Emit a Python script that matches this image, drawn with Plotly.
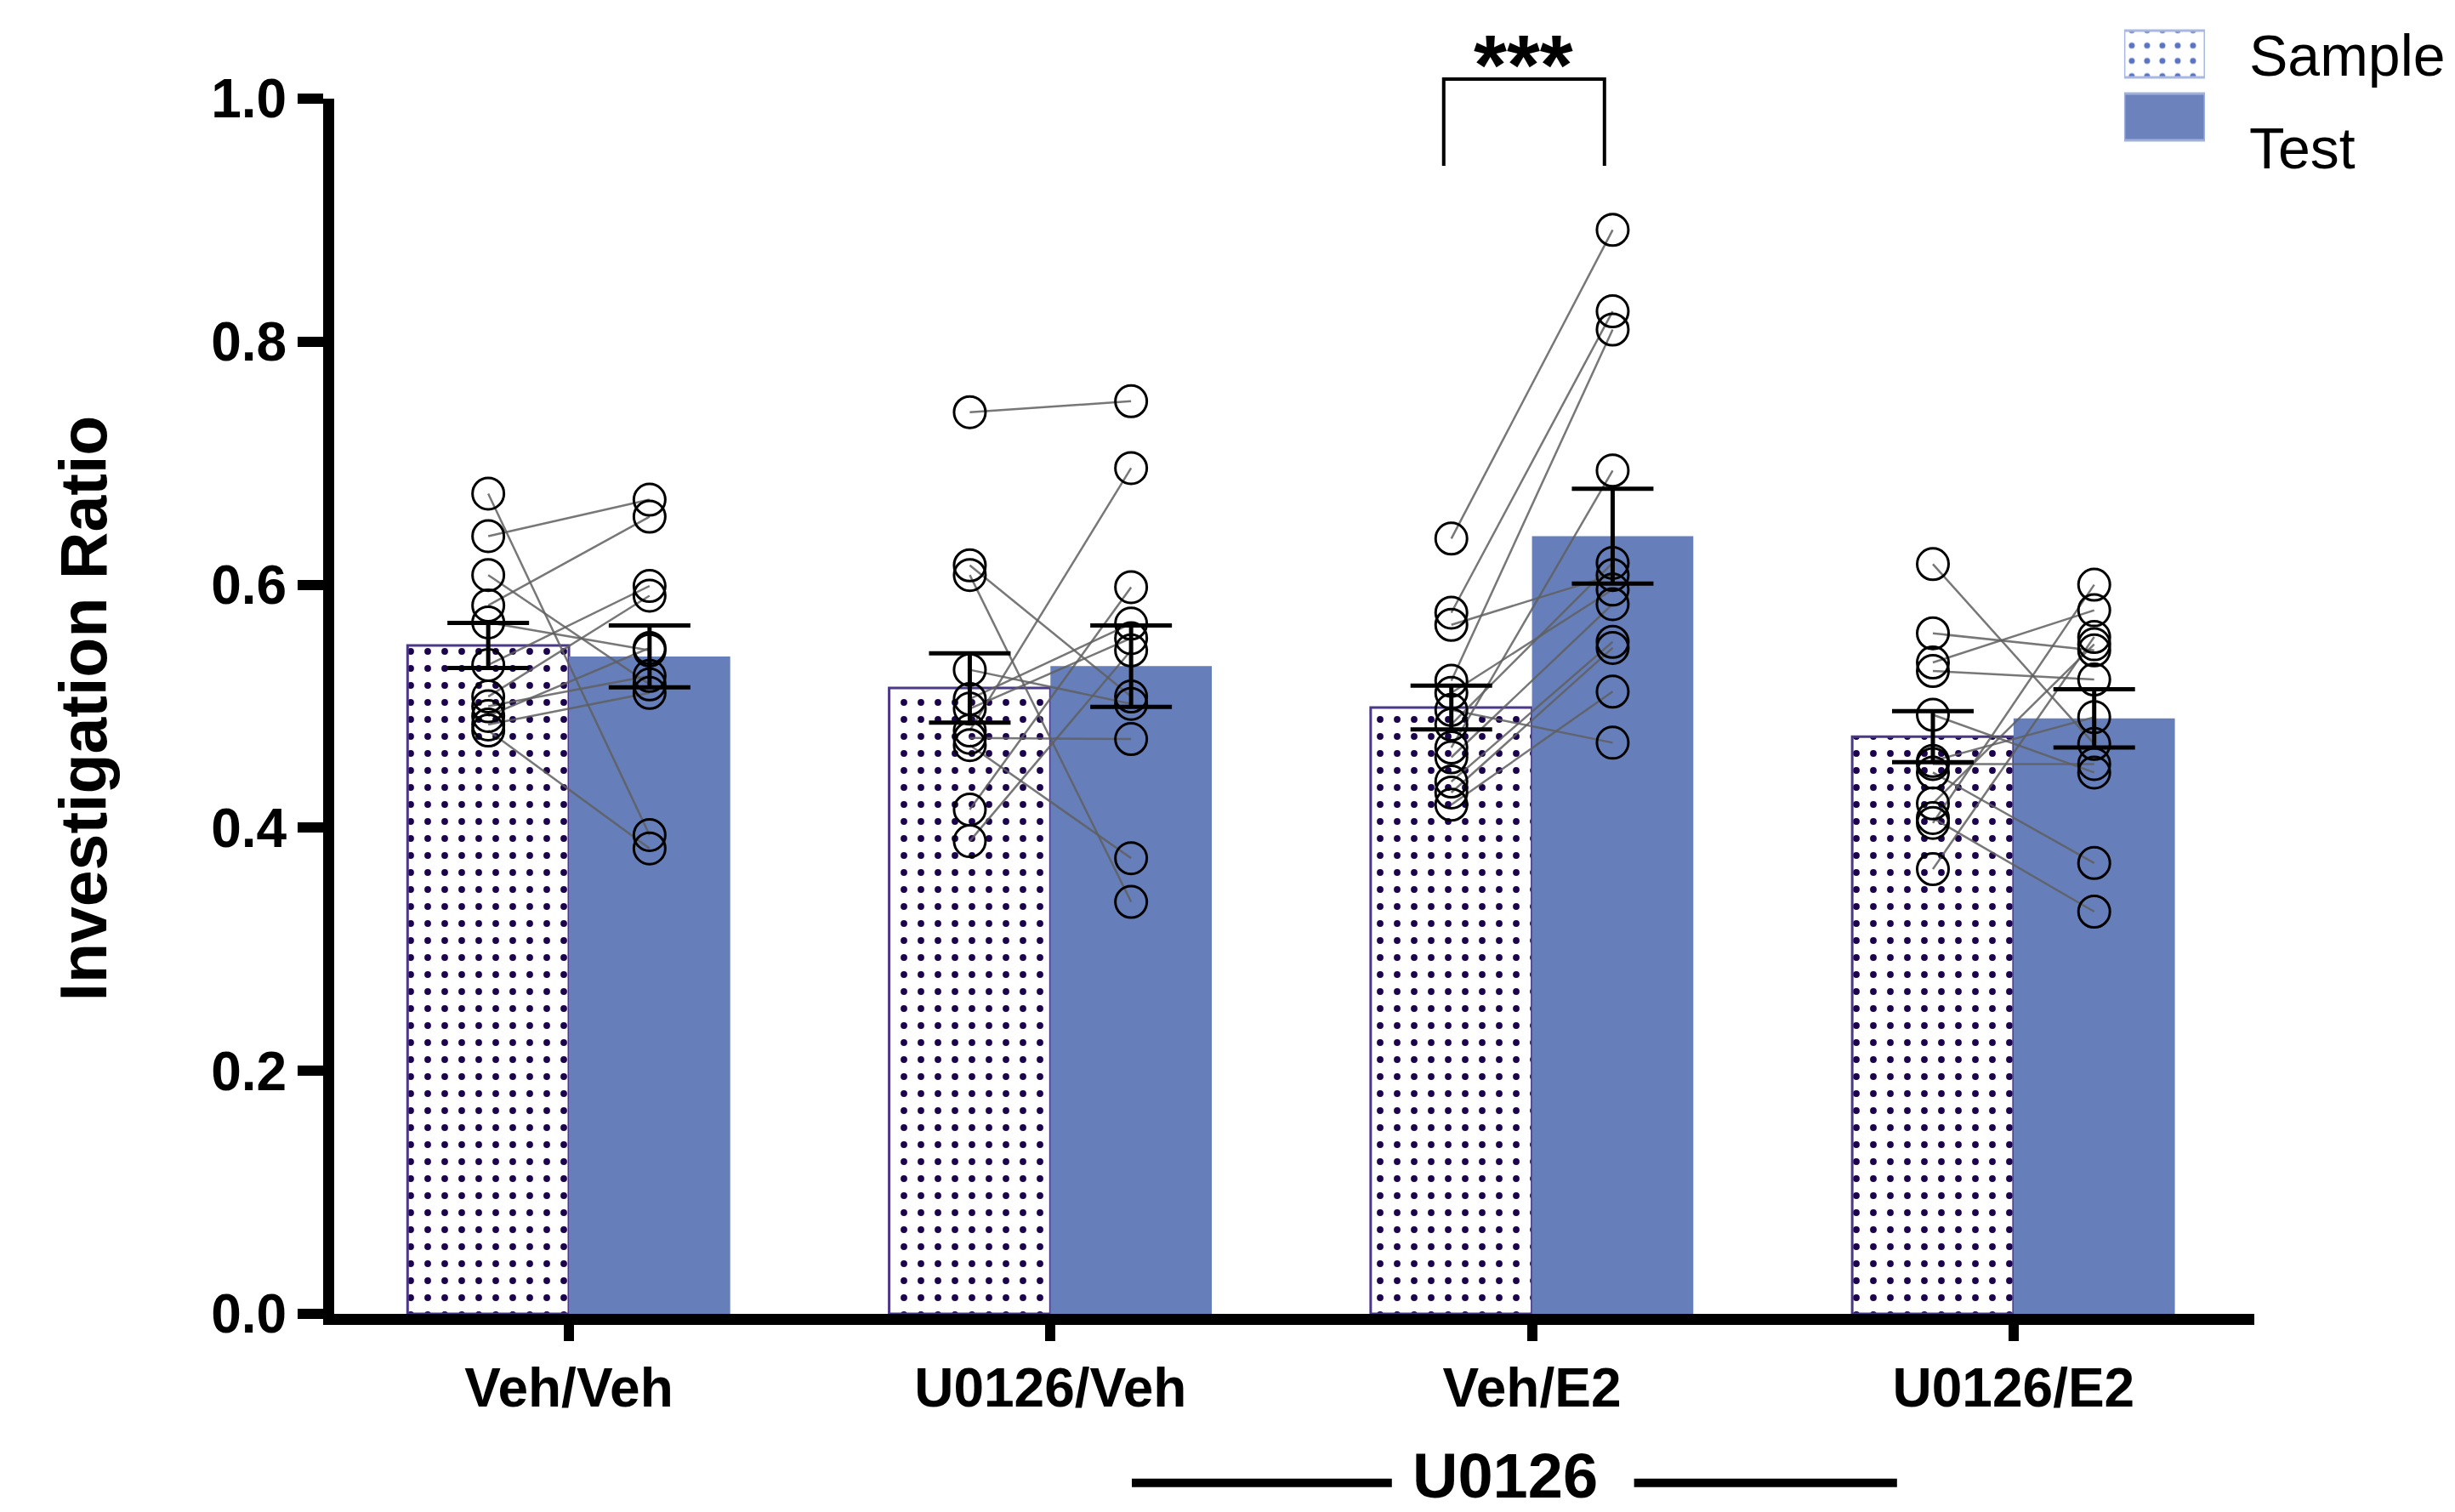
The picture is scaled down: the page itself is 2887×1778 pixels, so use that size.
import plotly.graph_objects as go

# ---------------- data ----------------
groups = ["Veh/Veh", "U0126/Veh", "Veh/E2", "U0126/E2"]

sample_mean = [0.550, 0.515, 0.499, 0.475]
test_mean = [0.541, 0.533, 0.640, 0.490]
sample_sem = [0.0185, 0.0285, 0.018, 0.021]
test_sem = [0.0255, 0.0335, 0.039, 0.024]

veh_veh_sample = [0.675, 0.640, 0.608, 0.583, 0.569, 0.534, 0.508, 0.500, 0.492, 0.485, 0.480]
veh_veh_test = [0.394, 0.670, 0.518, 0.656, 0.546, 0.599, 0.591, 0.525, 0.548, 0.511, 0.383]

u_veh_sample = [0.742, 0.616, 0.608, 0.530, 0.506, 0.498, 0.480, 0.474, 0.468, 0.415, 0.389]
u_veh_test = [0.751, 0.508, 0.339, 0.502, 0.568, 0.556, 0.696, 0.473, 0.375, 0.598, 0.546]

veh_e2_sample = [0.638, 0.577, 0.567, 0.521, 0.511, 0.497, 0.485, 0.466, 0.458, 0.438, 0.429, 0.419]
veh_e2_test = [0.892, 0.825, 0.608, 0.810, 0.596, 0.470, 0.618, 0.694, 0.584, 0.553, 0.548, 0.512]

u_e2_sample = [0.617, 0.560, 0.536, 0.529, 0.493, 0.4525, 0.4455, 0.420, 0.408, 0.404, 0.366, 0.455]
u_e2_test = [0.469, 0.546, 0.579, 0.522, 0.4455, 0.4525, 0.371, 0.551, 0.331, 0.600, 0.557, 0.491]

paired_samples = [veh_veh_sample, u_veh_sample, veh_e2_sample, u_e2_sample]
paired_tests = [veh_veh_test, u_veh_test, veh_e2_test, u_e2_test]

y_ticks = [0.0, 0.2, 0.4, 0.6, 0.8, 1.0]
legend_labels = ["Sample", "Test"]
sig_label = "***"
bottom_label = "U0126"
y_title = "Investigation Ratio"

# ---------------- style ----------------
FONT = "Liberation Sans, Arial, Helvetica, sans-serif"
TEST_COLOR = "#667eb9"
DOT_COLOR = "#1c044c"
EDGE_COLOR = "#4b3888"
OFF = 0.1675
BW = 0.335

xs_sample = [i - OFF for i in range(len(groups))]
xs_test = [i + OFF for i in range(len(groups))]

fig = go.Figure()

# bars
fig.add_trace(go.Bar(
    x=xs_sample, y=sample_mean, width=BW, name=legend_labels[0],
    marker=dict(color="white",
                pattern=dict(shape=".", fgcolor=DOT_COLOR, fgopacity=1, bgcolor="white",
                             size=20, solidity=0.12),
                line=dict(color=EDGE_COLOR, width=3)),
    showlegend=False))
fig.add_trace(go.Bar(
    x=xs_test, y=test_mean, width=BW, name=legend_labels[1],
    marker=dict(color=TEST_COLOR, line=dict(color=TEST_COLOR, width=0)),
    showlegend=False))

# connecting lines
lx, ly = [], []
for gi in range(len(groups)):
    for s, t in zip(paired_samples[gi], paired_tests[gi]):
        lx += [xs_sample[gi], xs_test[gi], None]
        ly += [s, t, None]
fig.add_trace(go.Scatter(x=lx, y=ly, mode="lines",
                         line=dict(color="rgba(95,95,95,0.85)", width=2.5),
                         hoverinfo="skip", showlegend=False))

# individual points
px, py = [], []
for gi in range(len(groups)):
    px += [xs_sample[gi]] * len(paired_samples[gi]) + [xs_test[gi]] * len(paired_tests[gi])
    py += list(paired_samples[gi]) + list(paired_tests[gi])
fig.add_trace(go.Scatter(x=px, y=py, mode="markers",
                         marker=dict(symbol="circle-open", size=37, color="black",
                                     line=dict(width=3)),
                         showlegend=False))

# error bars (SEM)
fig.add_trace(go.Scatter(
    x=xs_sample + xs_test, y=sample_mean + test_mean, mode="markers",
    marker=dict(size=1, color="rgba(0,0,0,0)"),
    error_y=dict(type="data", array=sample_sem + test_sem, color="black",
                 thickness=5, width=48),
    showlegend=False, hoverinfo="skip"))

# legend patches drawn as an inset bar axis
fig.add_trace(go.Bar(
    x=[1], y=[legend_labels[0]], orientation="h", width=0.743,
    marker=dict(color="white",
                pattern=dict(shape=".", fgcolor="#5a74c2", fgopacity=1, bgcolor="white",
                             size=18, solidity=0.12),
                line=dict(color="#a9b8e3", width=3)),
    xaxis="x2", yaxis="y2", showlegend=False))
fig.add_trace(go.Bar(
    x=[1], y=[legend_labels[1]], orientation="h", width=0.743,
    marker=dict(color="#6b82bd", line=dict(color="#9fb0dc", width=3)),
    xaxis="x2", yaxis="y2", showlegend=False))

Y_TOP = 0.93705  # main plot domain top

fig.update_layout(
    width=2887, height=1778,
    margin=dict(l=385, r=244, t=12, b=241, autoexpand=False),
    plot_bgcolor="white", paper_bgcolor="white",
    barmode="overlay", showlegend=False,
    font=dict(family=FONT, color="black"),
    xaxis=dict(range=[-0.4874, 3.5], tickvals=list(range(len(groups))), ticktext=groups,
               showline=True, linecolor="black", linewidth=13,
               ticks="outside", ticklen=19, tickwidth=12, tickcolor="black",
               showgrid=False, zeroline=False, automargin=False,
               tickfont=dict(size=64, family=FONT, weight="bold", color="black")),
    yaxis=dict(range=[0, 1], domain=[0, Y_TOP], tickvals=y_ticks, tickformat=".1f",
               showline=True, linecolor="black", linewidth=13,
               ticks="outside", ticklen=30, tickwidth=12, tickcolor="black",
               showgrid=False, zeroline=False, automargin=False,
               tickfont=dict(size=64, family=FONT, weight="bold", color="black")),
    xaxis2=dict(domain=[0.9322, 0.9743], range=[0, 1], anchor="y2", visible=False,
                fixedrange=True, automargin=False),
    yaxis2=dict(domain=[0.8987, 0.9957], range=[1.5, -0.5], anchor="x2", visible=False,
                categoryorder="array", categoryarray=legend_labels, fixedrange=True,
                automargin=False),
)

# significance bracket
fig.add_shape(type="path", xref="x", yref="y domain",
              path="M 1.8167 0.9447 L 1.8167 1.0161 L 2.1505 1.0161 L 2.1505 0.9447",
              line=dict(color="black", width=4))
fig.add_annotation(text=sig_label, xref="x", yref="y domain", x=1.983, y=1.028,
                   xanchor="center", yanchor="middle", showarrow=False,
                   font=dict(size=100, family=FONT, weight="bold", color="black"))

# y-axis title
fig.add_annotation(text=y_title, xref="paper", yref="y domain", x=-0.1306, y=0.498,
                   textangle=-90, xanchor="center", yanchor="middle", showarrow=False,
                   font=dict(size=77, family=FONT, weight="bold", color="black"))

# U0126 group label with side lines
fig.add_annotation(text=bottom_label, xref="x", yref="y domain", x=1.944, y=-0.133,
                   xanchor="center", yanchor="middle", showarrow=False,
                   font=dict(size=74, family=FONT, weight="bold", color="black"))
fig.add_shape(type="line", xref="x", yref="y domain", x0=1.169, x1=1.709,
              y0=-0.139, y1=-0.139, line=dict(color="black", width=10))
fig.add_shape(type="line", xref="x", yref="y domain", x0=2.212, x1=2.758,
              y0=-0.139, y1=-0.139, line=dict(color="black", width=10))

# legend labels
fig.add_annotation(text=legend_labels[0], xref="paper", yref="paper", x=0.9965, y=0.9708,
                   xanchor="left", yanchor="middle", showarrow=False,
                   font=dict(size=68, family=FONT, color="black"))
fig.add_annotation(text=legend_labels[1], xref="paper", yref="paper", x=0.9965, y=0.8987,
                   xanchor="left", yanchor="middle", showarrow=False,
                   font=dict(size=68, family=FONT, color="black"))

fig.write_html("out.html")
